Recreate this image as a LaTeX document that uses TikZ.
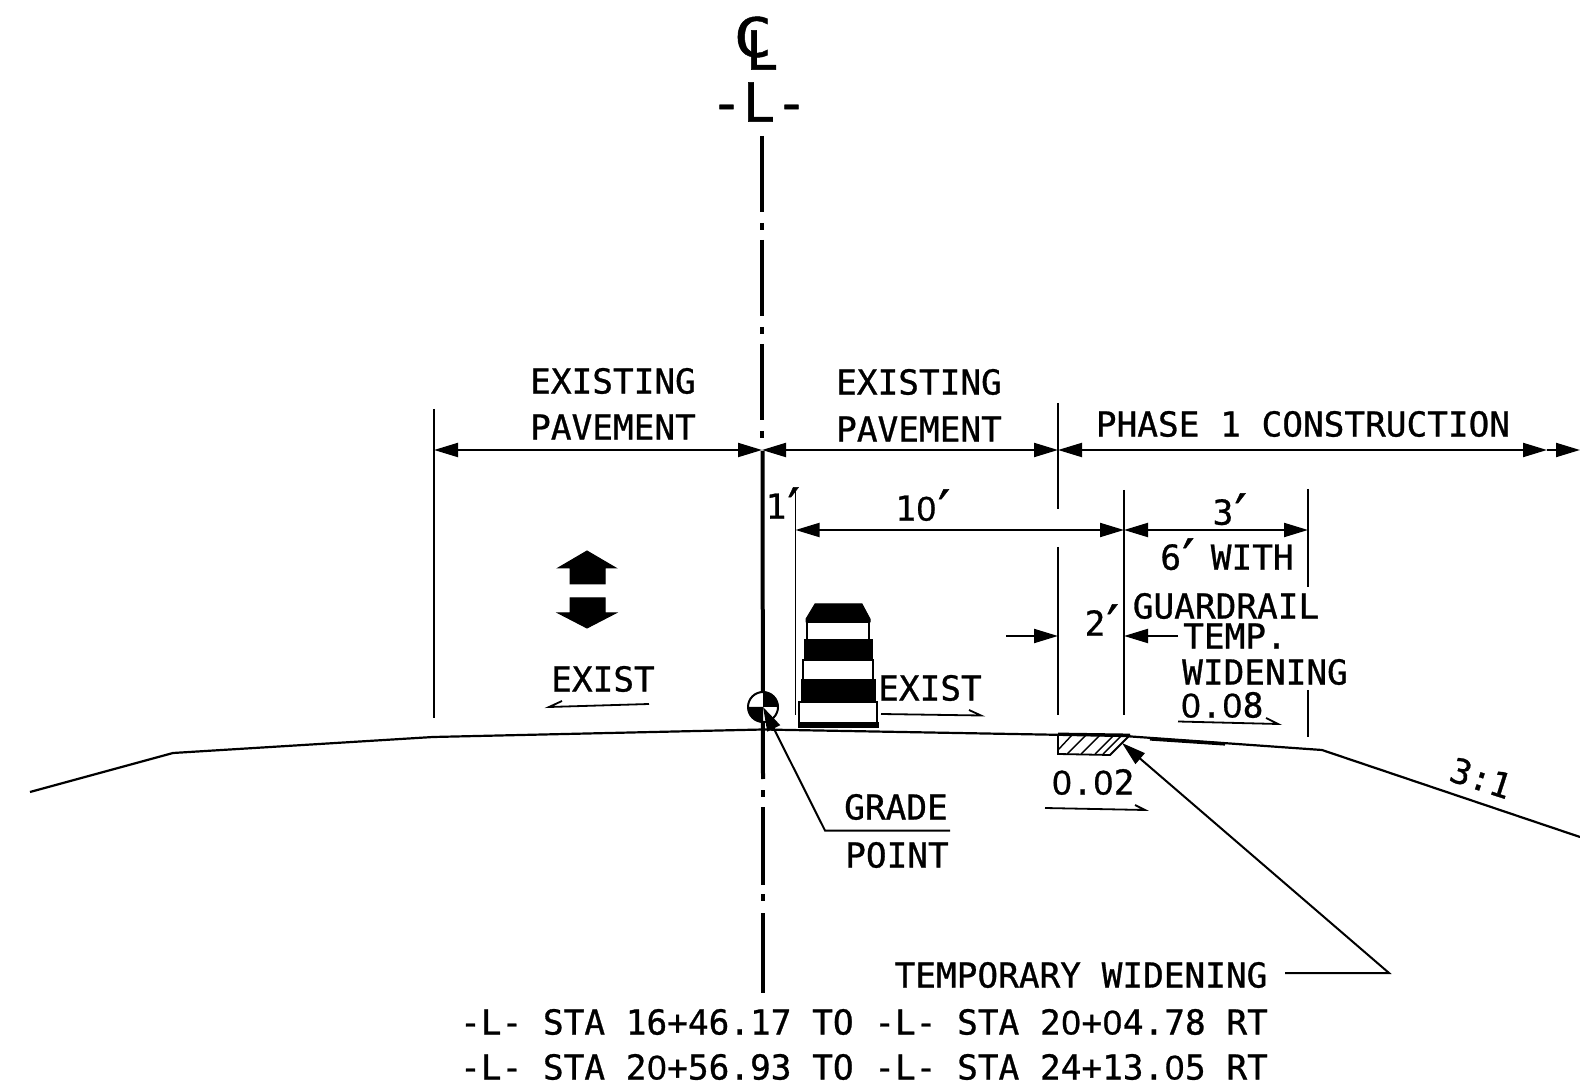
\documentclass[tikz,border=0pt]{standalone}
\usepackage{fontspec}
\setmainfont{DejaVu Sans Mono}[FakeBold=0.8]
\newfontfamily\zfont{Liberation Sans}[FakeBold=0.8]
\usetikzlibrary{arrows.meta}
\newcommand{\Zr}{\makebox[0.602em]{\zfont 0}}
\newcommand{\Pm}{\rlap{\hspace*{-4.5pt}\raisebox{-4pt}{\fontsize{27pt}{30pt}\selectfont ′}}}
\tikzset{
  x=0.5pt,y=-0.5pt,
  lbl/.style={inner sep=0pt,outer sep=0pt,anchor=center,font=\fontsize{17.2pt}{20pt}\selectfont},
  big/.style={inner sep=0pt,outer sep=0pt,anchor=center,font=\fontsize{27pt}{30pt}\selectfont},
  ground/.style={line width=1.1pt,line join=round},
  ext/.style={line width=0.9pt},
  dimline/.style={line width=1pt},
  dimarrows/.style={dimline,{Triangle[length=12pt,width=7pt]}-{Triangle[length=12pt,width=7pt]}},
  dimend/.style={dimline,-{Triangle[length=12pt,width=7pt]}},
  halfarrow/.style={line width=0.9pt,line join=miter},
  cline/.style={line width=2pt,line cap=butt},
  solidfill/.style={fill=black,draw=black,line width=0.5pt},
  barrelwhite/.style={fill=white,draw=black,line width=1.2pt},
  hatchline/.style={line width=0.7pt},
}
\begin{document}
\begin{tikzpicture}
\useasboundingbox[fill=white] (0,0) rectangle (1580,1090);
% ground line
\coordinate (g0) at (30,792);\coordinate (g1) at (173,753);\coordinate (g2) at (433,737);
\coordinate (g3) at (763,729.5);\coordinate (g4) at (1124,736);\coordinate (g5) at (1322,750);\coordinate (g6) at (1580,837);
\draw[ground] (g0) -- (g1) -- (g2) -- (g3) -- (g4) -- (g5) -- (g6);
% centre line
\coordinate (c0) at (762,136);\coordinate (c1) at (762,441);\coordinate (c2) at (762.5,451);
\coordinate (c3) at (763,779);\coordinate (c4) at (763,790);\coordinate (c5) at (763,903);
\coordinate (c6) at (763,913);\coordinate (c7) at (763,993);
\draw[cline,dash pattern=on 38pt off 5.5pt on 3.5pt off 5pt] (c0) -- (c1);
\draw[cline] (c2) -- (c3);
\draw[cline,dash pattern=on 3.5pt off 5pt on 39pt off 4.5pt] (c4) -- (c5);
\draw[cline] (c6) -- (c7);
% extension lines
\coordinate (e1a) at (434,409);\coordinate (e1b) at (434,718);
\coordinate (e2a) at (1058,403);\coordinate (e2b) at (1058,509);
\coordinate (e3a) at (1058,547);\coordinate (e3b) at (1058,715);
\coordinate (e4a) at (795.5,490);\coordinate (e4b) at (795.5,715);
\coordinate (e5a) at (1124,490);\coordinate (e5b) at (1124,715);
\coordinate (e6a) at (1308,489);\coordinate (e6b) at (1308,587);
\coordinate (e7a) at (1308,690);\coordinate (e7b) at (1308,737);
\foreach \p/\q in {e1a/e1b,e2a/e2b,e3a/e3b,e4a/e4b,e5a/e5b,e6a/e6b,e7a/e7b} \draw[ext] (\p) -- (\q);
% dimensions
\coordinate (d1) at (434,450);\coordinate (d2) at (762,450);\coordinate (d3) at (1058,450);
\coordinate (d4) at (1547,450);\coordinate (d5) at (1580,450);
\coordinate (d6) at (795.5,530);\coordinate (d7) at (1124,530);\coordinate (d8) at (1308,530);
\draw[dimarrows] (d1) -- (d2);
\draw[dimarrows] (d2) -- (d3);
\draw[dimarrows] (d3) -- (d4);
\draw[dimend] (d4) -- (d5);
\draw[dimarrows] (d6) -- (d7);
\draw[dimarrows] (d7) -- (d8);
\coordinate (a1) at (1006,636);\coordinate (a2) at (1058,636);
\coordinate (a3) at (1178,636);\coordinate (a4) at (1124,636);
\draw[dimend] (a1) -- (a2);
\draw[dimend] (a3) -- (a4);
% traffic arrows
\filldraw[solidfill] (587,551) -- (616,568) -- (605,568) -- (605,584) -- (570,584) -- (570,568) -- (558,568) -- cycle;
\filldraw[solidfill] (587,628) -- (616,613) -- (605,613) -- (605,598) -- (570,598) -- (570,613) -- (558,613) -- cycle;
% barrel
\filldraw[solidfill] (815,604) -- (862,604) -- (870,619) -- (870,622) -- (806,622) -- (806,619) -- cycle;
\draw[barrelwhite] (807,622) rectangle (869,640);
\filldraw[solidfill] (804,640) rectangle (872,660);
\draw[barrelwhite] (803,660) rectangle (873,680);
\filldraw[solidfill] (801,680) rectangle (875,702);
\draw[barrelwhite] (799,702) rectangle (877,723);
\filldraw[solidfill] (798,723) rectangle (878,727);
% grade point
\coordinate (gp) at (763,707);
\draw[line width=1pt,fill=white] (gp) circle[radius=15];
\fill (gp) -- ++(0,-15) arc[start angle=-90,end angle=0,radius=15] -- cycle;
\fill (gp) -- ++(0,15) arc[start angle=90,end angle=180,radius=15] -- cycle;
\coordinate (gl1) at (950,830.5);\coordinate (gl2) at (825,830.5);
\draw[dimend] (gl1) -- (gl2) -- (gp);
% temporary widening
\draw[line width=0.9pt] (1058,735) -- (1058,754) -- (1110,755) -- (1130,735);
\draw[line width=1.4pt] (1058,734) -- (1130,735);
\draw[hatchline] (1058,750) -- (1072,735);
\draw[hatchline] (1067,754) -- (1086,735);
\draw[hatchline] (1081,754) -- (1100,735);
\draw[hatchline] (1095,754) -- (1114,735);
\draw[hatchline] (1103,754) -- (1122,735);
\draw[line width=1.6pt] (1150,739) -- (1225,744);
\coordinate (tw0) at (1285,973);\coordinate (tw1) at (1389,973);\coordinate (tw2) at (1122,743);
\draw[dimend] (tw0) -- (tw1) -- (tw2);
% half arrows
\draw[halfarrow] (649,704) -- (549,707) -- (562,701);
\draw[halfarrow] (881,714) -- (981,715.5) -- (969,710);
\draw[halfarrow] (1178,721.5) -- (1278,724) -- (1266,718);
\draw[halfarrow] (1045,808) -- (1145,810) -- (1135,805);
% labels
\node[big,xscale=1.2] (cC) at (753,37) {C};
\node[big] (cL) at (762,50) {L};
\node[big] (dashL) at (759,102) {-L-};
\node[lbl] (t1) at (613,381) {EXISTING};
\node[lbl] (t2) at (613,427) {PAVEMENT};
\node[lbl] (t3) at (919,382) {EXISTING};
\node[lbl] (t4) at (919,429) {PAVEMENT};
\node[lbl] (t5) at (1303,424) {PHASE 1 CONSTRUCTION};
\node[lbl] (t6) at (776,507) {1\Pm};
\node[lbl] (t7) at (916,509) {1\Zr\Pm};
\node[lbl] (t8) at (1223,513) {3\Pm};
\node[lbl] (t9) at (1227,558) {6\Pm\hspace*{4.5pt} WITH};
\node[lbl] (t10) at (1095,624) {2\Pm};
\node[lbl] (t11) at (1226,606) {GUARDRAIL};
\node[lbl] (t12) at (1235,636) {TEMP.};
\node[lbl] (t13) at (1265,672) {WIDENING};
\node[lbl] (t14) at (1222,705) {\Zr.\Zr8};
\node[lbl] (t15) at (603,679) {EXIST};
\node[lbl] (t16) at (930,688) {EXIST};
\node[lbl] (t17) at (1093,782) {\Zr.\Zr2};
\node[lbl] (t18) at (896,807) {GRADE};
\node[lbl] (t19) at (897,855) {POINT};
\node[lbl,rotate=-18] (t20) at (1481,778) {3:1};
\node[lbl] (t21) at (1081,975) {TEMPORARY WIDENING};
\node[lbl] (t22) at (864,1022) {-L- STA 16+46.17 TO -L- STA 2\Zr+\Zr4.78 RT};
\node[lbl] (t23) at (864,1067) {-L- STA 2\Zr+56.93 TO -L- STA 24+13.\Zr5 RT};
\end{tikzpicture}
\end{document}
